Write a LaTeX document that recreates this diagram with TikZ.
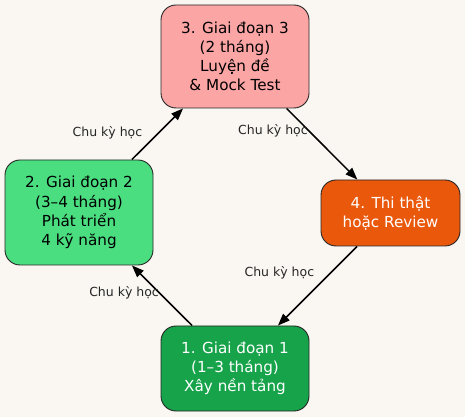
\documentclass[tikz,border=0pt]{standalone}
\usepackage{fontspec}
\setmainfont{DejaVu Sans}
\usepackage{tikz}
\usetikzlibrary{arrows.meta, positioning}
\usepackage{xcolor}

\definecolor{bgcream}{HTML}{FAF7F2}
\definecolor{stagepink}{HTML}{FCA5A5}
\definecolor{stagelight}{HTML}{4ADE80}
\definecolor{stageorange}{HTML}{EA580C}
\definecolor{stagedark}{HTML}{16A34A}

\begin{document}
\begin{tikzpicture}[x=1pt, y=1pt,
        stage/.style={rectangle, draw=black!85, line width=0.9pt, rounded corners=15pt, align=center, inner sep=0pt, minimum width=148pt, font=\fontsize{15.2}{19.2}\selectfont},
        cyclelabel/.style={font=\fontsize{12.5}{14}\selectfont, text=black!85, inner sep=0pt},
        line/.style={draw, line width=1.5pt, -{Triangle[length=12pt, width=9pt]}}
    ]
        \fill [bgcream] (0,0) rectangle (465,417);
        \useasboundingbox (0,0) rectangle (465,417);

        \node [stage, fill=stagepink, minimum height=103pt] (luyende) at (235,360.5) {3. Giai đoạn 3\\(2 tháng)\\Luyện đề\\\& Mock Test};
        \node [stage, fill=stagelight, minimum height=105pt] (kynang) at (79,204.5) {2. Giai đoạn 2\\(3–4 tháng)\\Phát triển\\4 kỹ năng};
        \node [stage, fill=stageorange, text=white, minimum width=139pt, minimum height=66pt] (thithat) at (390.5,204) {4. Thi thật\\hoặc Review};
        \node [stage, fill=stagedark, text=white, minimum height=85pt] (nentang) at (235,48.5) {1. Giai đoạn 1\\(1–3 tháng)\\Xây nền tảng};

        \path [line] (nentang) -- node[cyclelabel, pos=0.54, anchor=east] {Chu kỳ học} (kynang);
        \path [line] (kynang) -- node[cyclelabel, pos=0.53, anchor=east, xshift=-16pt] {Chu kỳ học} (luyende);
        \path [line] (luyende) -- node[cyclelabel, pos=0.31, anchor=east] {Chu kỳ học} (thithat);
        \path [line] (thithat) -- node[cyclelabel, pos=0.33, anchor=east, xshift=-16pt] {Chu kỳ học} (nentang);
    \end{tikzpicture}
\end{document}
